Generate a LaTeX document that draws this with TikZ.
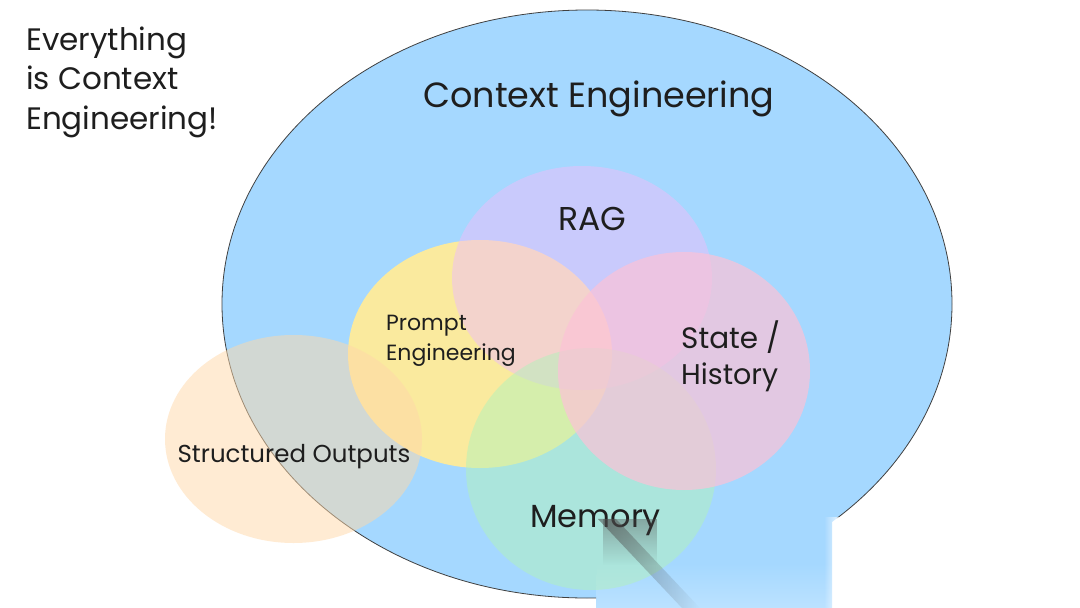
\documentclass[tikz,border=0pt]{standalone}
\usepackage{fontspec}
\setmainfont{Poppins}
\usetikzlibrary{fadings}
\definecolor{ink}{HTML}{1E1E1E}
\definecolor{ctxblue}{HTML}{A5D8FF}
\definecolor{ragc}{HTML}{EEBEFA}
\definecolor{promptc}{HTML}{FFEC99}
\definecolor{statec}{HTML}{FCC2D7}
\definecolor{memc}{HTML}{B2F2BB}
\definecolor{structc}{HTML}{FFD8A8}
\tikzfading[name=fadeinright, left color=transparent!100, right color=transparent!0]
\tikzfading[name=fadeoutright, left color=transparent!0, right color=transparent!100]
\tikzfading[name=fadeoutdown, top color=transparent!0, bottom color=transparent!100]
\tikzset{
  lbl/.style={text=ink, inner sep=0pt, font=\fontsize{#1}{#1}\selectfont},
}
\begin{document}
\begin{tikzpicture}[x=1pt,y=-1pt]
\useasboundingbox (0,0) rectangle (1080,608);
\fill[white] (0,0) rectangle (1080,608);
% big ellipse (fill)
\fill[ctxblue] (587,304) ellipse [x radius=365, y radius=294];
% blue band of the page-curl artifact, reaching past the ellipse
\shade[top color=ctxblue, bottom color=ctxblue!75!white, middle color=ctxblue] (598,518) -- (832,518) -- (832,608) -- (596,608) -- cycle;
% big ellipse outline, hidden inside the artifact
\begin{scope}[even odd rule]
  \clip (0,0) rectangle (1080,608) (598,518) -- (1080,518) -- (1080,608) -- (596,608) -- cycle;
  \draw[ink!85, line width=0.8pt] (587,304) ellipse [x radius=365, y radius=294];
\end{scope}
% circles
\fill[promptc, opacity=0.95] (480,354) ellipse [x radius=132, y radius=114];
\fill[ragc, opacity=0.5] (582,278) ellipse [x radius=130, y radius=112];
\fill[memc, opacity=0.5] (591,469) ellipse [x radius=125, y radius=121];
\fill[statec, opacity=0.7] (684,371) ellipse [x radius=126, y radius=119];
\fill[structc, opacity=0.5] (293.5,439) ellipse [x radius=128.5, y radius=104];
% texts
\node[lbl=31, anchor=base west] (t1) at (26,50) {Everything};
\node[lbl=31, anchor=base west] (t2) at (26,89) {is Context};
\node[lbl=31, anchor=base west] (t3) at (26,129) {Engineering!};
\node[lbl=35, anchor=base] (ctx) at (599,107) {Context Engineering};
\node[lbl=33, anchor=base] (rag) at (592,230) {RAG};
\node[lbl=22, anchor=base west] (p1) at (386,330) {Prompt};
\node[lbl=22, anchor=base west] (p2) at (386,360) {Engineering};
\node[lbl=29.5, anchor=base west] (s1) at (681,348) {State /};
\node[lbl=28.5, anchor=base west] (s2) at (681,384) {History};
\node[lbl=24.5, anchor=base] (struct) at (294,462) {Structured Outputs};
\node[lbl=32, anchor=base west] (mem) at (530,527) {Memory};
% page-curl artifact: shadows and white corner
\fill[black!70, opacity=0.4, path fading=fadeoutdown] (603,519) rectangle (657,565);
\fill[black!70, opacity=0.55, path fading=fadeoutright] (598,519) -- (616,519) -- (700,608) -- (682,608) -- cycle;
\fill[white, path fading=fadeinright] (824,517) rectangle (844,608);
\fill[white] (844,517) rectangle (1080,608);
\end{tikzpicture}
\end{document}
